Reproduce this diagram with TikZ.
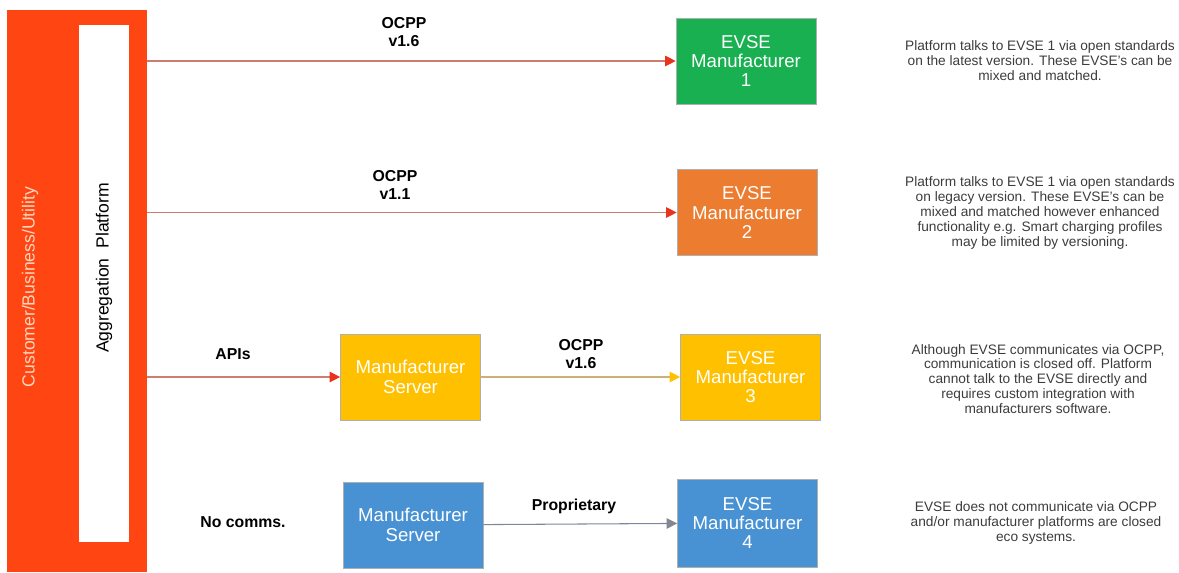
\documentclass[tikz,border=0pt]{standalone}
\definecolor{BarColor}{RGB}{255,70,18}
\definecolor{BarTextColor}{RGB}{255,214,190}
\definecolor{GreenBox}{RGB}{24,176,80}
\definecolor{OrangeBox}{RGB}{236,124,48}
\definecolor{YellowBox}{RGB}{255,192,0}
\definecolor{BlueBox}{RGB}{72,146,212}
\definecolor{BoxEdge}{RGB}{175,175,175}
\definecolor{LinkRed}{RGB}{205,125,110}
\definecolor{TipRed}{RGB}{232,52,28}
\definecolor{LinkTan}{RGB}{205,175,120}
\definecolor{LinkGrey}{RGB}{125,135,155}
\definecolor{TipGrey}{RGB}{130,135,145}
\definecolor{NoteColor}{RGB}{60,60,60}
\usepackage{fontspec}
\setmainfont{Liberation Sans}
\usepackage{tikz}
\usetikzlibrary{arrows.meta}

\begin{document}
\begin{tikzpicture}[x=0.02cm, y=-0.02cm,
    evsebox/.style={draw=BoxEdge, minimum width=2.8cm, minimum height=1.72cm, inner sep=0pt, align=center, text=white, font=\fontsize{10.6}{11}\selectfont},
    linklabel/.style={align=center, font=\fontsize{9}{10.2}\selectfont\bfseries},
    note/.style={align=center, text=NoteColor, font=\fontsize{7.8}{8.5}\selectfont},
    link/.style={line width=0.6pt, draw=LinkRed, -{Triangle[length=6pt, width=6pt, color=TipRed]}}]
          \useasboundingbox (0,0) rectangle (1179,572);
          % platform bars
          \node[fill=BarColor, minimum width=2.8cm, minimum height=11.24cm, inner sep=0pt] (cust) at (77,291) {};
          \node[fill=white, minimum width=1cm, minimum height=10.34cm, inner sep=0pt] (aggr) at (104,283.5) {};
          \node[rotate=90, text=BarTextColor, font=\fontsize{10}{12}\selectfont] (custtext) at (30,287) {Customer/Business/Utility};
          \node[rotate=90, font=\fontsize{10}{12}\selectfont] (aggrtext) at (104,268) {Aggregation\ \ Platform};
          % manufacturer boxes
          \node[evsebox, fill=GreenBox] (evse1) at (746,61) {EVSE\\Manufacturer\\1};
          \node[evsebox, fill=OrangeBox] (evse2) at (747,212.5) {EVSE\\Manufacturer\\2};
          \node[evsebox, fill=YellowBox] (srv3) at (410.5,377) {Manufacturer\\Server};
          \node[evsebox, fill=YellowBox] (evse3) at (750.5,377) {EVSE\\Manufacturer\\3};
          \node[evsebox, fill=BlueBox] (srv4) at (413,525) {Manufacturer\\Server};
          \node[evsebox, fill=BlueBox, minimum height=1.76cm] (evse4) at (747.5,523) {EVSE\\Manufacturer\\4};
          % links
          \draw[link] (cust.east |- evse1) -- (evse1);
          \draw[link] (cust.east |- evse2) -- (evse2);
          \draw[link] (cust.east |- srv3) -- (srv3);
          \draw[link, draw=LinkTan, -{Triangle[length=6pt, width=6pt, color=YellowBox]}] (srv3) -- (evse3);
          \draw[link, draw=LinkGrey, -{Triangle[length=6pt, width=6pt, color=TipGrey]}] (srv4) -- (evse4);
          \node[linklabel] (lbl1) at (404,32) {OCPP\\v1.6};
          \node[linklabel] (lbl2) at (395,185) {OCPP\\v1.1};
          \node[linklabel] (lbl3) at (233,354) {APIs};
          \node[linklabel] (lbl4) at (581,354) {OCPP\\v1.6};
          \node[linklabel] (lbl5) at (574,506) {Proprietary};
          \node[linklabel] (lbl6) at (243,522) {No comms.};
          % notes
          \node[note] (note1) at (1040,61) {Platform talks to EVSE 1 via open standards\\on the latest version. These EVSE’s can be\\mixed and matched.};
          \node[note] (note2) at (1040,213) {Platform talks to EVSE 1 via open standards\\on legacy version. These EVSE’s can be\\mixed and matched however enhanced\\functionality e.g. Smart charging profiles\\may be limited by versioning.};
          \node[note] (note3) at (1038,379) {Although EVSE communicates via OCPP,\\communication is closed off. Platform\\cannot talk to the EVSE directly and\\requires custom integration with\\manufacturers software.};
          \node[note] (note4) at (1036,523) {EVSE does not communicate via OCPP\\and/or manufacturer platforms are closed\\eco systems.};
        \end{tikzpicture}
\end{document}
